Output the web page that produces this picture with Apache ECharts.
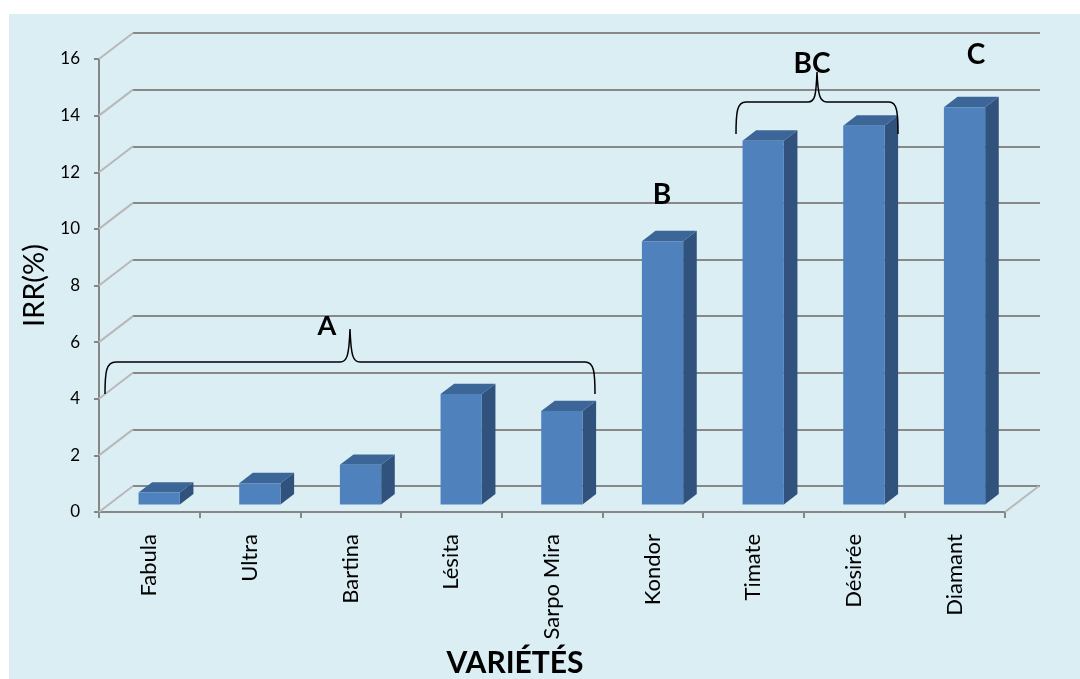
<!DOCTYPE html>
<html>
<head>
<meta charset="utf-8">
<script src="https://cdn.jsdelivr.net/npm/echarts@6/dist/echarts.min.js"></script>
<style>
html,body{margin:0;padding:0;background:#ffffff;}
#chart{width:1080px;height:679px;}
</style>
</head>
<body>
<div id="chart"></div>
<script>
var categories = ['Fabula', 'Ultra', 'Bartina', 'Lésita', 'Sarpo Mira', 'Kondor', 'Timate', 'Désirée', 'Diamant'];
var irrValues = [0.42, 0.75, 1.4, 3.9, 3.3, 9.3, 12.85, 13.38, 14.03];
var yTicks = [0, 2, 4, 6, 8, 10, 12, 14, 16];

var FONT = 'Lato, "Open Sans", sans-serif';
var DEPTH = [34, -26];   // floor depth vector (px)
var F0 = 0.29, F1 = 0.69; // bar depth position within floor
var BAR_W = 0.41;

var chart = echarts.init(document.getElementById('chart'), null, {renderer: 'canvas'});

function barItem(params, api) {
  var idx = api.value(0), v = api.value(1);
  var p0 = api.coord([idx, 0]);
  var p1 = api.coord([idx, v]);
  var bw = api.size([1, 0])[0] * BAR_W;
  var ox = F0 * DEPTH[0], oy = F0 * DEPTH[1];
  var dx = (F1 - F0) * DEPTH[0], dy = (F1 - F0) * DEPTH[1];
  var xl = p0[0] - bw / 2 + ox, xr = p0[0] + bw / 2 + ox;
  var yb = p0[1] + oy, yt = p1[1] + oy;
  return {
    type: 'group',
    children: [
      {type: 'polygon', shape: {points: [[xr, yt], [xr, yb], [xr + dx, yb + dy], [xr + dx, yt + dy]]},
        style: {fill: '#31527D'}},
      {type: 'polygon', shape: {points: [[xl, yt], [xr, yt], [xr + dx, yt + dy], [xl + dx, yt + dy]]},
        style: {fill: '#3C6697'}},
      {type: 'rect', shape: {x: xl, y: yt, width: xr - xl, height: yb - yt},
        style: {fill: '#4F81BD'}}
    ]
  };
}

function connectorItem(params, api) {
  var v = api.value(0);
  var p = api.coord([0, v]);
  var half = api.size([1, 0])[0] / 2;
  var x = p[0] - half;
  var children = [{
    type: 'line', shape: {x1: x, y1: p[1], x2: x + DEPTH[0], y2: p[1] + DEPTH[1]},
    style: {stroke: '#B8B8B8', lineWidth: 2}
  }];
  if (v === 0) {
    var pr = api.coord([categories.length - 1, 0]);
    var xr = pr[0] + half;
    children.push({
      type: 'line', shape: {x1: xr, y1: pr[1], x2: xr + DEPTH[0], y2: pr[1] + DEPTH[1]},
      style: {stroke: '#B8B8B8', lineWidth: 2}
    });
  }
  return {type: 'group', children: children};
}

function braceItem(params, api) {
  return {
    type: 'group',
    children: [
      {type: 'path', shape: {pathData: 'M105,394 C105,372 106,362 116,362 L340,362 C347,362 349,356 350,329 C351,356 353,362 360,362 L585,362 C594,362 595,372 595,394'},
        style: {fill: null, stroke: '#000', lineWidth: 1.5}},
      {type: 'path', shape: {pathData: 'M736,134 C736,112 737,102 746,102 L808,102 C815,102 816,96 817,72 C818,96 820,102 827,102 L889,102 C897,102 898,112 898,134'},
        style: {fill: null, stroke: '#000', lineWidth: 1.5}}
    ]
  };
}

var option = {
  backgroundColor: '#ffffff',
  animation: false,
  graphic: [
    {type: 'rect', z: -100, silent: true, shape: {x: 9, y: 14, width: 1071, height: 665}, style: {fill: '#DBEEF4'}},
    {type: 'text', z: 100, style: {text: 'A', x: 327, y: 326, fill: '#000', font: 'bold 27px ' + FONT, textAlign: 'center', textVerticalAlign: 'middle'}},
    {type: 'text', z: 100, style: {text: 'B', x: 662, y: 195, fill: '#000', font: 'bold 28px ' + FONT, textAlign: 'center', textVerticalAlign: 'middle'}},
    {type: 'text', z: 100, style: {text: 'BC', x: 812, y: 64, fill: '#000', font: 'bold 28px ' + FONT, textAlign: 'center', textVerticalAlign: 'middle'}},
    {type: 'text', z: 100, style: {text: 'C', x: 976, y: 55, fill: '#000', font: 'bold 28px ' + FONT, textAlign: 'center', textVerticalAlign: 'middle'}}
  ],
  grid: [
    {left: 99, top: 59, width: 906, height: 453, containLabel: false, outerBoundsMode: 'none'},
    {left: 133, top: 33, width: 907, height: 453, containLabel: false, outerBoundsMode: 'none'}
  ],
  xAxis: [
    {
      type: 'category', gridIndex: 0, data: categories,
      name: 'VARIÉTÉS', nameLocation: 'middle', nameGap: 136,
      nameTextStyle: {fontFamily: FONT, fontWeight: 'bold', fontSize: 30, color: '#000', padding: [0, 74, 0, 0]},
      axisLine: {lineStyle: {color: '#868686', width: 2}},
      axisTick: {show: true, interval: 0, length: 6, lineStyle: {color: '#868686', width: 2}},
      axisLabel: {interval: 0, rotate: 90, margin: 22, fontFamily: FONT, fontSize: 22, color: '#000'},
      splitLine: {show: false}
    },
    {
      type: 'category', gridIndex: 1, data: categories, show: false
    }
  ],
  yAxis: [
    {
      type: 'value', gridIndex: 0, min: 0, max: 16, interval: 2,
      name: 'IRR(%)', nameLocation: 'middle', nameGap: 49,
      nameTextStyle: {fontFamily: FONT, fontSize: 29, color: '#000'},
      axisLine: {show: true, lineStyle: {color: '#868686', width: 2}},
      axisTick: {show: true, length: 5, lineStyle: {color: '#868686', width: 2}},
      axisLabel: {margin: 19, fontFamily: FONT, fontSize: 17, color: '#000'},
      splitLine: {show: false}
    },
    {
      type: 'value', gridIndex: 1, min: 0, max: 16, interval: 2,
      axisLine: {show: false}, axisTick: {show: false}, axisLabel: {show: false},
      splitLine: {show: true, lineStyle: {color: '#888888', width: 2}}
    }
  ],
  series: [
    {
      type: 'custom', xAxisIndex: 0, yAxisIndex: 0, z: 3,
      renderItem: connectorItem,
      data: yTicks.map(function (t) { return [t]; }),
      encode: {y: 0}
    },
    {
      type: 'custom', xAxisIndex: 0, yAxisIndex: 0, z: 5,
      renderItem: barItem,
      data: irrValues.map(function (v, i) { return [i, v]; }),
      encode: {x: 0, y: 1}
    },
    {
      type: 'custom', coordinateSystem: 'none', z: 10, silent: true,
      renderItem: braceItem,
      data: [[0]]
    }
  ]
};
chart.setOption(option);
</script>
</body>
</html>
